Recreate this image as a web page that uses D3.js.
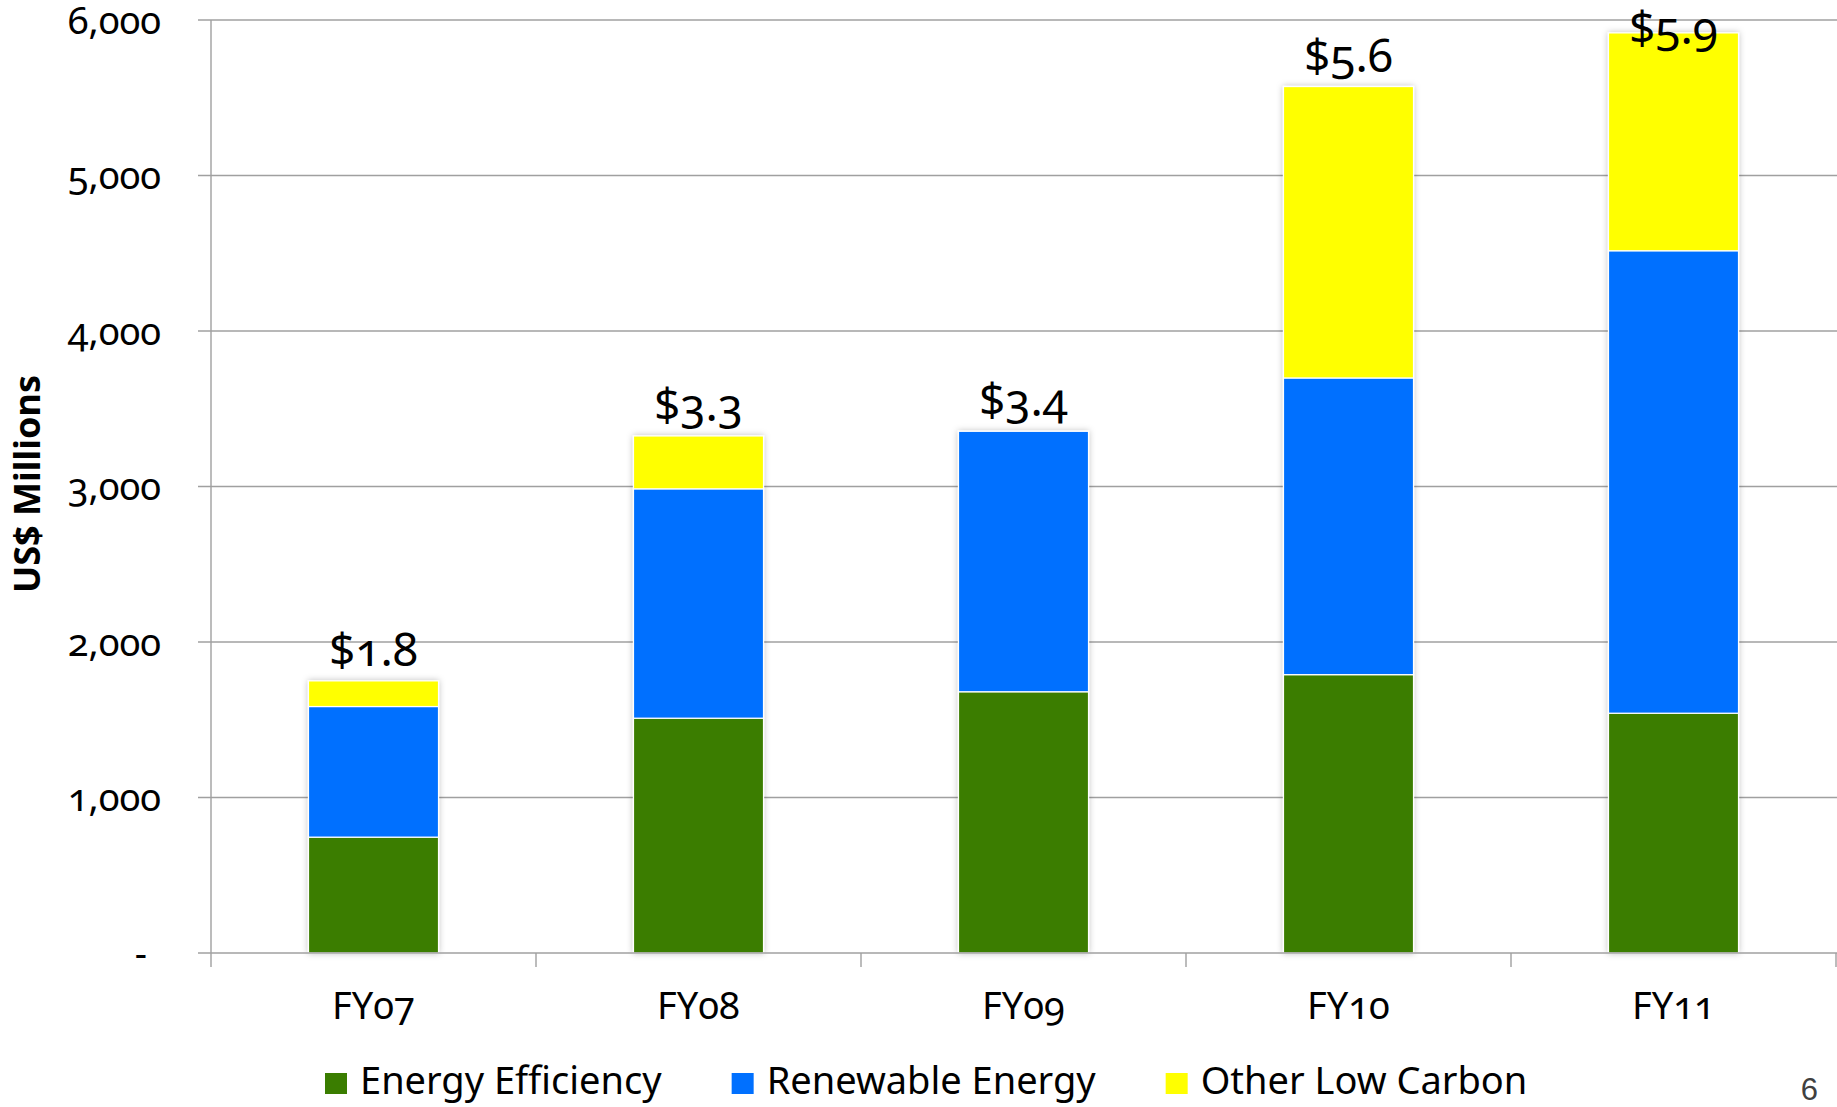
<!DOCTYPE html>
<html>
<head>
<meta charset="utf-8">
<script src="https://cdn.jsdelivr.net/npm/d3@7/dist/d3.min.js"></script>
<style>
  html, body { margin: 0; padding: 0; background: #fff; }
  svg { display: block; }
  .num { font-family: "Noto Sans", sans-serif; font-feature-settings: "onum" 1; font-variant-numeric: oldstyle-nums; }
</style>
</head>
<body>
<svg id="chart" width="1837" height="1107"></svg>
<script>
// Low-carbon lending by fiscal year, US$ millions
const categories = ["FY07", "FY08", "FY09", "FY10", "FY11"];
const energyEfficiency = [745, 1510, 1680, 1790, 1542];
const renewableEnergy = [840, 1475, 1675, 1908, 2974];
const otherLowCarbon = [165, 340, 0, 1874, 1401];
const seriesNames = ["Energy Efficiency", "Renewable Energy", "Other Low Carbon"];
const seriesColors = ["#3a7d00", "#0070ff", "#ffff00"];
const yTicks = [0, 1000, 2000, 3000, 4000, 5000, 6000];

const svg = d3.select("#chart");
const W = 1837;

const plot = { left: 211, right: 1836, top: 20, bottom: 953 };

const x = d3.scaleBand().domain(categories).range([plot.left, plot.right]).padding(0);
const y = d3.scaleLinear().domain([0, 6000]).range([plot.bottom, plot.top]);

// soft shadow behind the bars
const defs = svg.append("defs");
const f = defs.append("filter").attr("id", "barShadow")
  .attr("x", "-20%").attr("y", "-5%").attr("width", "140%").attr("height", "110%");
f.append("feDropShadow").attr("dx", 0).attr("dy", 0).attr("stdDeviation", 3)
  .attr("flood-color", "#000").attr("flood-opacity", 0.25);

// horizontal gridlines (with short tick stubs left of the axis)
svg.append("g").selectAll("line").data(yTicks.filter(d => d > 0)).join("line")
  .attr("x1", plot.left - 13).attr("x2", W)
  .attr("y1", d => y(d)).attr("y2", d => y(d))
  .attr("stroke", "#a0a0a0").attr("stroke-width", 1.4);

// stacked bars
const rows = categories.map((c, i) => ({
  cat: c,
  "Energy Efficiency": energyEfficiency[i],
  "Renewable Energy": renewableEnergy[i],
  "Other Low Carbon": otherLowCarbon[i]
}));
const stacked = d3.stack().keys(seriesNames)(rows);
const color = d3.scaleOrdinal().domain(seriesNames).range(seriesColors);
const bw = x.bandwidth();

const barG = svg.append("g").attr("filter", "url(#barShadow)");
barG.selectAll("g").data(stacked).join("g")
  .attr("fill", d => color(d.key))
  .selectAll("rect").data(d => d.filter(s => s[1] - s[0] > 0)).join("rect")
  .attr("x", d => x(d.data.cat) + bw * 0.3)
  .attr("width", bw * 0.4)
  .attr("y", d => y(d[1]))
  .attr("height", d => y(d[0]) - y(d[1]))
  .attr("stroke", "#ffffff").attr("stroke-width", 1.2);

// x axis baseline and tick marks at category boundaries
svg.append("line")
  .attr("x1", plot.left - 13).attr("x2", W)
  .attr("y1", y(0)).attr("y2", y(0))
  .attr("stroke", "#a0a0a0").attr("stroke-width", 1.4);
const bounds = categories.map(c => x(c)).concat([plot.right]);
svg.append("g").selectAll("line").data(bounds.slice(1)).join("line")
  .attr("x1", d => d).attr("x2", d => d)
  .attr("y1", y(0)).attr("y2", y(0) + 14)
  .attr("stroke", "#a0a0a0").attr("stroke-width", 1.4);

// y axis line
svg.append("line")
  .attr("x1", plot.left).attr("x2", plot.left)
  .attr("y1", plot.top).attr("y2", y(0) + 14)
  .attr("stroke", "#a0a0a0").attr("stroke-width", 1.4);

// y tick labels
const fmt = d3.format(",");
svg.append("g").selectAll("text").data(yTicks).join("text")
  .attr("class", "num")
  .attr("x", d => d === 0 ? 147 : 161)
  .attr("y", d => y(d))
  .attr("dy", "0.36em")
  .attr("text-anchor", "end")
  .attr("font-size", 38)
  .attr("fill", "#000")
  .text(d => d === 0 ? "-" : fmt(d));

// category labels
svg.append("g").selectAll("text").data(categories).join("text")
  .attr("class", "num")
  .attr("x", d => x(d) + bw / 2)
  .attr("y", 1019)
  .attr("text-anchor", "middle")
  .attr("font-size", 38)
  .attr("fill", "#000")
  .text(d => d);

// total labels in US$ billions above each bar
const totals = categories.map((c, i) => energyEfficiency[i] + renewableEnergy[i] + otherLowCarbon[i]);
const billions = d3.format(".1f");
svg.append("g").selectAll("text").data(categories).join("text")
  .attr("class", "num")
  .attr("x", (d, i) => x(d) + bw / 2)
  .attr("y", (d, i) => Math.max(y(totals[i]) - 15, 44))
  .attr("text-anchor", "middle")
  .attr("font-size", 46)
  .attr("fill", "#000")
  .text((d, i) => "$" + billions(totals[i] / 1000));

// y axis title
svg.append("text")
  .attr("transform", "translate(26,484) rotate(-90)")
  .attr("text-anchor", "middle")
  .attr("dominant-baseline", "central")
  .attr("font-family", "'Noto Sans', sans-serif")
  .attr("font-weight", "bold")
  .attr("font-size", 36)
  .attr("fill", "#000")
  .text("US$ Millions");

// legend
const legend = svg.append("g");
let lx = 325;
seriesNames.forEach((name, i) => {
  legend.append("rect")
    .attr("x", lx).attr("y", 1073).attr("width", 22).attr("height", 21)
    .attr("fill", seriesColors[i]);
  const t = legend.append("text")
    .attr("x", lx + 35).attr("y", 1094)
    .attr("font-family", "'Noto Sans', sans-serif")
    .attr("font-size", 38)
    .attr("fill", "#000")
    .text(name);
  lx += 35 + t.node().getComputedTextLength() + 70;
});

// page number
svg.append("text")
  .attr("x", 1818).attr("y", 1100)
  .attr("text-anchor", "end")
  .attr("font-family", "'Liberation Sans', Arial, sans-serif")
  .attr("font-size", 31)
  .attr("fill", "#404040")
  .text("6");
</script>
</body>
</html>
